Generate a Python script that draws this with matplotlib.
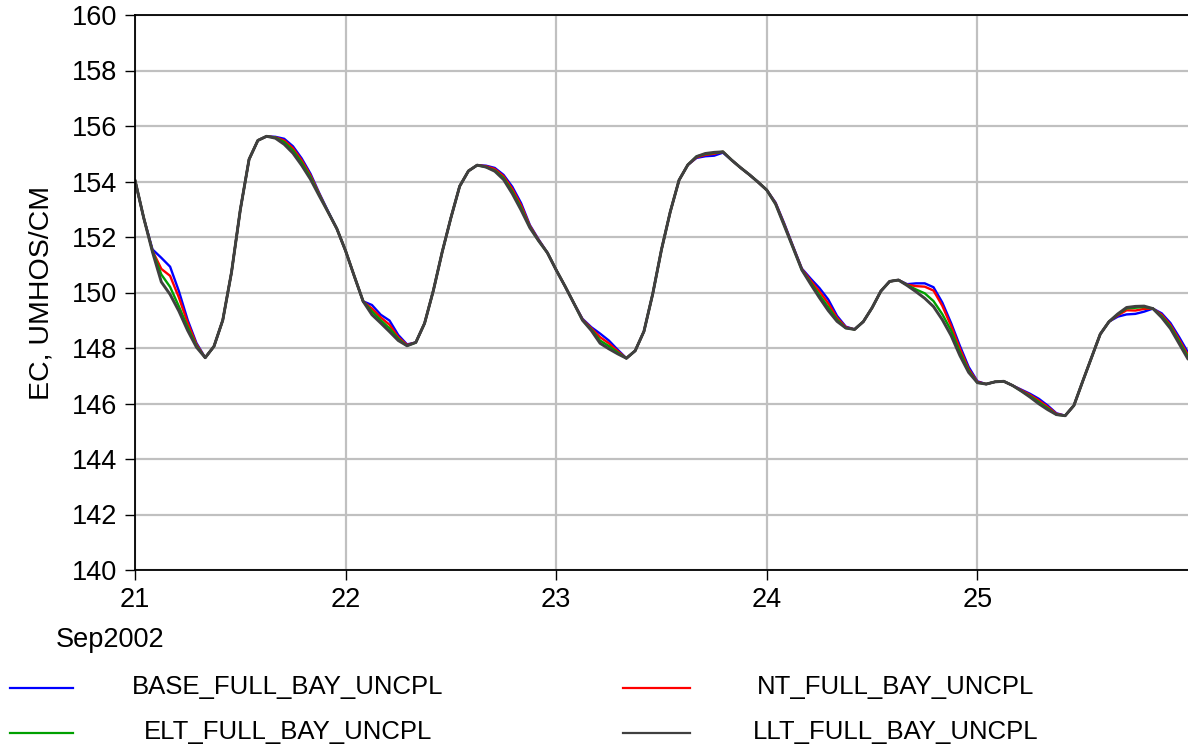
import numpy as np
import matplotlib
matplotlib.use("Agg")
import matplotlib.pyplot as plt
from matplotlib.lines import Line2D

plt.rcParams['font.family'] = ['Liberation Sans', 'DejaVu Sans']

# hourly samples, 21 Sep 2002 00:00 .. 26 Sep 2002 00:00 (day of month)
hours = np.arange(121)
days = 21 + hours / 24.0

# LLT_FULL_BAY_UNCPL (EC, umhos/cm), one value per hour
llt = [
    154.05, 152.68, 151.45, 150.38, 149.93, 149.33, 148.63, 148.03, 147.65, 148.06, 149.00, 150.73,
    152.98, 154.80, 155.48, 155.63, 155.56, 155.34, 155.02, 154.58, 154.08, 153.48, 152.90, 152.30,
    151.50, 150.58, 149.68, 149.20, 148.90, 148.59, 148.27, 148.08, 148.20, 148.89, 150.07, 151.45,
    152.69, 153.83, 154.38, 154.59, 154.52, 154.37, 154.07, 153.56, 152.97, 152.33, 151.86, 151.43,
    150.81, 150.23, 149.62, 149.00, 148.63, 148.17, 147.97, 147.79, 147.63, 147.90, 148.60, 149.95,
    151.55, 152.91, 154.05, 154.60, 154.90, 155.01, 155.05, 155.07, 154.77, 154.50, 154.25, 153.98,
    153.69, 153.19, 152.40, 151.61, 150.81, 150.30, 149.81, 149.35, 148.96, 148.72, 148.67, 148.95,
    149.45, 150.05, 150.40, 150.45, 150.25, 150.03, 149.79, 149.49, 149.02, 148.45, 147.73, 147.12,
    146.75, 146.70, 146.78, 146.80, 146.65, 146.45, 146.23, 145.99, 145.78, 145.60, 145.56, 145.93,
    146.80, 147.65, 148.50, 148.95, 149.23, 149.46, 149.50, 149.51, 149.42, 149.10, 148.70, 148.15,
    147.60,
]

# differences of the other runs from LLT, one value per hour
base_diff = [
    0, 0, 0.10, 0.87, 1.00, 0.72, 0.38, 0.15, 0, 0, 0, 0,
    0, 0, 0, 0, 0.05, 0.20, 0.25, 0.25, 0.20, 0.10, 0.03, 0,
    0, 0, 0, 0.35, 0.30, 0.40, 0.20, 0.05, 0, 0, 0, 0,
    0, 0, 0, 0, 0.05, 0.12, 0.17, 0.25, 0.25, 0.10, 0.05, 0,
    0, 0, 0, 0.05, 0.12, 0.35, 0.30, 0.15, 0, 0, 0, 0,
    0, 0, 0, 0, -0.05, -0.10, -0.12, -0.03, 0, 0, 0, 0,
    0, 0.05, 0.08, 0.05, 0.05, 0.20, 0.35, 0.40, 0.20, 0.05, 0, 0,
    0, 0, 0, 0, 0.05, 0.30, 0.54, 0.70, 0.62, 0.45, 0.35, 0.20,
    0.05, 0, 0, 0, 0, 0.05, 0.12, 0.18, 0.15, 0.05, 0, 0,
    0, 0, 0, 0, -0.10, -0.25, -0.27, -0.20, 0, 0.15, 0.20, 0.24,
    0.24,
]
nt_diff = [
    0, 0, 0.05, 0.47, 0.67, 0.49, 0.28, 0.10, 0, 0, 0, 0,
    0, 0, 0, 0, 0.03, 0.14, 0.18, 0.18, 0.14, 0.07, 0, 0,
    0, 0, 0, 0.22, 0.20, 0.25, 0.12, 0.03, 0, 0, 0, 0,
    0, 0, 0, 0, 0.03, 0.08, 0.12, 0.17, 0.17, 0.07, 0.03, 0,
    0, 0, 0, 0.03, 0.08, 0.22, 0.20, 0.10, 0, 0, 0, 0,
    0, 0, 0, 0, -0.03, -0.05, -0.05, 0, 0, 0, 0, 0,
    0, 0.03, 0.05, 0.03, 0.03, 0.13, 0.23, 0.26, 0.13, 0.03, 0, 0,
    0, 0, 0, 0, 0.03, 0.20, 0.42, 0.58, 0.50, 0.35, 0.25, 0.12,
    0.03, 0, 0, 0, 0, 0.03, 0.08, 0.12, 0.10, 0.03, 0, 0,
    0, 0, 0, 0, -0.05, -0.10, -0.15, -0.10, 0, 0.10, 0.13, 0.15,
    0.15,
]
elt_diff = [
    0, 0, 0.03, 0.27, 0.27, 0.17, 0.12, 0.05, 0, 0, 0, 0,
    0, 0, 0, 0, 0.02, 0.08, 0.10, 0.10, 0.08, 0.04, 0, 0,
    0, 0, 0, 0.12, 0.10, 0.12, 0.06, 0, 0, 0, 0, 0,
    0, 0, 0, 0, 0, 0.03, 0.06, 0.08, 0.08, 0.03, 0, 0,
    0, 0, 0, 0, 0.04, 0.10, 0.10, 0.05, 0, 0, 0, 0,
    0, 0, 0, 0, 0, -0.02, -0.02, 0, 0, 0, 0, 0,
    0, 0, 0.02, 0, 0, 0.06, 0.10, 0.12, 0.06, 0, 0, 0,
    0, 0, 0, 0, 0.02, 0.08, 0.18, 0.20, 0.20, 0.18, 0.12, 0.06,
    0, 0, 0, 0, 0, 0, 0.04, 0.06, 0.05, 0, 0, 0,
    0, 0, 0, 0, -0.02, -0.03, -0.05, -0.03, 0, 0.05, 0.07, 0.08,
    0.08,
]

names = ['BASE_FULL_BAY_UNCPL', 'NT_FULL_BAY_UNCPL', 'ELT_FULL_BAY_UNCPL', 'LLT_FULL_BAY_UNCPL']
colors = ['#0000ff', '#ff0000', '#00a000', '#404040']

llt = np.array(llt)
series = [llt + np.array(base_diff), llt + np.array(nt_diff), llt + np.array(elt_diff), llt]

fig = plt.figure(figsize=(11.88, 7.5), dpi=100)
ax = fig.add_axes([135 / 1188, 1 - 570 / 750, 1 - 135 / 1188, (570 - 15) / 750])

for s, c in zip(series, colors):
    ax.plot(days, s, color=c, lw=1.7 if c != '#404040' else 2.1,
            solid_joinstyle='round', solid_capstyle='round')

ax.set_xlim(21, 26)
ax.set_ylim(140, 160)
ax.set_xticks([21, 22, 23, 24, 25])
ax.set_xticklabels(['21', '22', '23', '24', '25'])
ax.set_yticks(np.arange(140, 161, 2))
ax.grid(True, color='#c0c0c0', lw=1.6)
ax.set_axisbelow(True)
ax.spines['right'].set_visible(False)
for sp in ['left', 'bottom', 'top']:
    ax.spines[sp].set_linewidth(1.3)
    ax.spines[sp].set_color('black')
ax.tick_params(axis='both', direction='out', length=7, width=1.0, labelsize=19.5, pad=5)
ax.tick_params(axis='y', pad=6)
ax.set_ylabel('EC, UMHOS/CM', fontsize=20.5, labelpad=12)

fig.text(56 / 1188, 1 - 640 / 750, 'Sep2002', fontsize=19.5, va='center', ha='left')

# legend drawn in figure coordinates
leg_pos = [(10, 73, 288, 688), (623, 690, 896, 688), (10, 73, 288, 733), (623, 690, 896, 733)]
for (x0, x1, xt, y), nm, c in zip(leg_pos, names, colors):
    fig.add_artist(Line2D([x0 / 1188, x1 / 1188], [1 - y / 750, 1 - y / 750], color=c, lw=1.6))
    fig.text(xt / 1188, 1 - (y - 1) / 750, nm, fontsize=18.5, ha='center', va='center')

fig.savefig('out.png', dpi=100)
